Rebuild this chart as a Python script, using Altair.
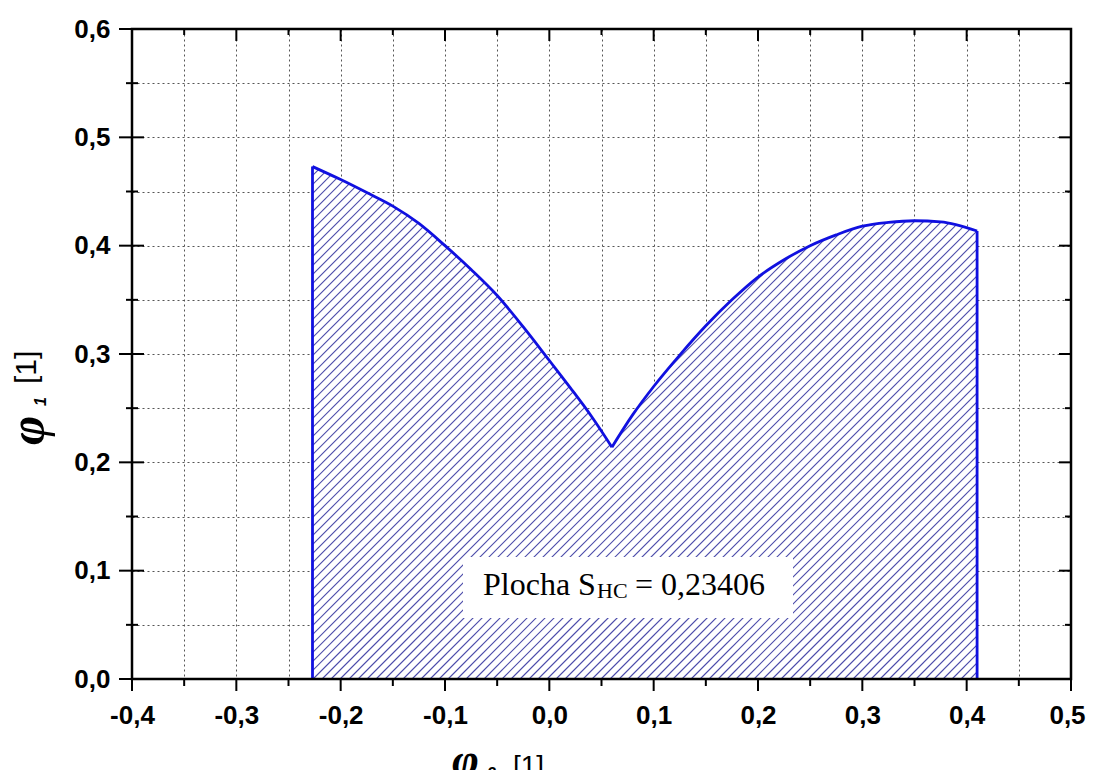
import altair as alt
import pandas as pd
import numpy as np

# ---------------- data ----------------
left_x = [-0.227, -0.2, -0.175, -0.15, -0.125, -0.1, -0.075, -0.05, -0.025, 0.0, 0.02, 0.04, 0.06]
left_y = [0.473, 0.461, 0.449, 0.4365, 0.4205, 0.400, 0.378, 0.354, 0.325, 0.294, 0.269, 0.243, 0.214]
right_x = [0.06, 0.08, 0.10, 0.125, 0.15, 0.175, 0.2, 0.225, 0.25, 0.275, 0.3, 0.325, 0.35, 0.375, 0.41]
right_y = [0.214, 0.244, 0.270, 0.299, 0.326, 0.350, 0.371, 0.387, 0.400, 0.410, 0.418, 0.4215, 0.423, 0.422, 0.4135]

x_major = [-0.4, -0.3, -0.2, -0.1, 0.0, 0.1, 0.2, 0.3, 0.4, 0.5]
x_minor = [-0.35, -0.25, -0.15, -0.05, 0.05, 0.15, 0.25, 0.35, 0.45]
y_major = [0.0, 0.1, 0.2, 0.3, 0.4, 0.5, 0.6]
y_minor = [0.05, 0.15, 0.25, 0.35, 0.45, 0.55]

area_text = ["Plocha S", "HC", "= 0,23406"]
x_title = ["\u03c6", "2", "[1]"]
y_title = ["\u03c6", "1", "[1]"]

# ---------------- layout ----------------
W, H = 939, 650
XMIN, XMAX = -0.4, 0.5
YMIN, YMAX = 0.0, 0.6
BLUE = "#1010e0"
HATCH = "#4c4caa"

bx = np.array(left_x + right_x[1:])
by = np.array(left_y + right_y[1:])
xL, xR = bx[0], bx[-1]

left_df = pd.DataFrame({"x": left_x, "y": left_y, "base": 0.0})
right_df = pd.DataFrame({"x": right_x, "y": right_y, "base": 0.0})
edges_df = pd.DataFrame({"x": [xL, xR], "y": [left_y[0], right_y[-1]], "base": 0.0})

# hatch lines (45 deg in pixel space), clipped to the region
px_x = W / (XMAX - XMIN)
px_y = H / (YMAX - YMIN)
m = px_x / px_y
spacing = 9.0 / px_x
segs = []
c = xL - by.max() / m
while c < xR:
    xs = np.arange(max(c, xL), xR, 0.0002)
    xs = np.append(xs, xR)
    ys = m * (xs - c)
    f = np.interp(xs, bx, by)
    inside = ys <= f
    i = 0
    n = len(xs)
    while i < n:
        if inside[i]:
            j = i
            while j + 1 < n and inside[j + 1]:
                j += 1
            if xs[j] - xs[i] > 1e-4:
                segs.append({"x": xs[i], "y": ys[i], "x2": xs[j], "y2": ys[j]})
            i = j + 1
        else:
            i += 1
    c += spacing
hatch = pd.DataFrame(segs)

LABEL_EXPR = ("abs(round(datum.value*20)) % 2 == 0 ? "
              "replace(replace(format(datum.value, '.1f'), '\u2212', '-'), '.', ',') : ''")

xs_scale = alt.Scale(domain=[XMIN, XMAX], nice=False, zero=False)
ys_scale = alt.Scale(domain=[YMIN, YMAX], nice=False, zero=False)

x_axis = alt.Axis(values=sorted(x_major + x_minor), grid=True, gridDash=[2, 3],
                  gridColor="#555555", gridWidth=1, ticks=False, domain=False,
                  labelExpr=LABEL_EXPR, labelFont="Liberation Sans", labelFontWeight="bold",
                  labelFontSize=26, labelColor="black", labelPadding=23, labelFlush=False,
                  labelOffset={"condition": {"test": "datum.value > 0.49", "value": -4}, "value": 0},
                  labelOverlap=False, labelBound=False, title=None)
y_axis = alt.Axis(values=sorted(y_major + y_minor), grid=True, gridDash=[2, 3],
                  gridColor="#555555", gridWidth=1, ticks=False, domain=False,
                  labelExpr=LABEL_EXPR, labelFont="Liberation Sans", labelFontWeight="bold",
                  labelFontSize=26, labelColor="black", labelPadding=22,
                  labelOverlap=False, title=None)

def X(field):
    return alt.X(field, scale=xs_scale, axis=x_axis)

def Y(field):
    return alt.Y(field, scale=ys_scale, axis=y_axis)

area_l = alt.Chart(left_df).mark_area(color="white", opacity=1, interpolate="monotone").encode(
    x=X("x:Q"), y=Y("y:Q"), y2="base:Q")
area_r = alt.Chart(right_df).mark_area(color="white", opacity=1, interpolate="monotone").encode(
    x=X("x:Q"), y=Y("y:Q"), y2="base:Q")

hatch_layer = alt.Chart(hatch).mark_rule(color=HATCH, strokeWidth=1.1).encode(
    x=X("x:Q"), y=Y("y:Q"), x2="x2:Q", y2="y2:Q")

line_l = alt.Chart(left_df).mark_line(color=BLUE, strokeWidth=2.8, interpolate="monotone").encode(
    x=X("x:Q"), y=Y("y:Q"))
line_r = alt.Chart(right_df).mark_line(color=BLUE, strokeWidth=2.8, interpolate="monotone").encode(
    x=X("x:Q"), y=Y("y:Q"))
edges = alt.Chart(edges_df).mark_rule(color=BLUE, strokeWidth=2.8).encode(
    x=X("x:Q"), y=Y("y:Q"), y2="base:Q")

one = pd.DataFrame({"k": [0]})

frame = alt.Chart(one).mark_rect(filled=False, stroke="black", strokeWidth=2.5).encode(
    x=alt.value(0), x2=alt.value(W), y=alt.value(0), y2=alt.value(H))

def xticks(vals, y0, y1):
    return alt.Chart(pd.DataFrame({"v": vals})).mark_rule(color="black", strokeWidth=2).encode(
        x=X("v:Q"), y=alt.value(y0), y2=alt.value(y1))

def yticks(vals, x0, x1):
    return alt.Chart(pd.DataFrame({"v": vals})).mark_rule(color="black", strokeWidth=2).encode(
        y=Y("v:Q"), x=alt.value(x0), x2=alt.value(x1))

ticks = [
    xticks(x_major, H, H + 12), xticks(x_minor, H, H + 7),
    xticks(x_major, 0, 12), xticks(x_minor, 0, 6),
    yticks(y_major, -13, 12), yticks(y_minor, -6, 6),
    yticks(y_major, W - 12, W), yticks(y_minor, W - 6, W),
]

box = alt.Chart(one).mark_rect(color="white").encode(
    x=alt.value(331), x2=alt.value(661), y=alt.value(528), y2=alt.value(589))

def txt(s, x, y, size, font, weight="normal", style="normal", angle=0):
    return alt.Chart(one).mark_text(text=s, align="left", baseline="alphabetic", fontSize=size,
                                    font=font, fontWeight=weight, fontStyle=style, angle=angle,
                                    color="black").encode(x=alt.value(x), y=alt.value(y))

texts = [
    txt(area_text[0], 351, 566, 32, "Liberation Serif"),
    txt(area_text[1], 465, 569, 22, "Liberation Serif"),
    txt(area_text[2], 503, 566, 32, "Liberation Serif"),
    # x-axis title
    txt(x_title[0], 320, 746, 46, "Liberation Serif", "bold", "italic"),
    txt(x_title[1], 355, 750, 16, "Liberation Sans", "bold", "italic"),
    txt(x_title[2], 381, 746, 28, "Liberation Sans"),
    # y-axis title (rotated)
    txt(y_title[0], -88, 416, 50, "Liberation Serif", "bold", "italic", 270),
    txt(y_title[1], -86, 377, 16, "Liberation Sans", "bold", "italic", 270),
    txt(y_title[2], -96, 355, 30, "Liberation Sans", "normal", "normal", 270),
]

chart = alt.layer(area_l, area_r, hatch_layer, line_l, line_r, edges, *ticks, frame, box, *texts).properties(
    width=W, height=H,
    autosize=alt.AutoSizeParams(type="none"),
    padding={"left": 124, "top": 21, "right": 15, "bottom": 91},
).configure_view(strokeWidth=0).configure(background="white")

chart.save("out.html", embed_options={"renderer": "svg", "actions": False})
